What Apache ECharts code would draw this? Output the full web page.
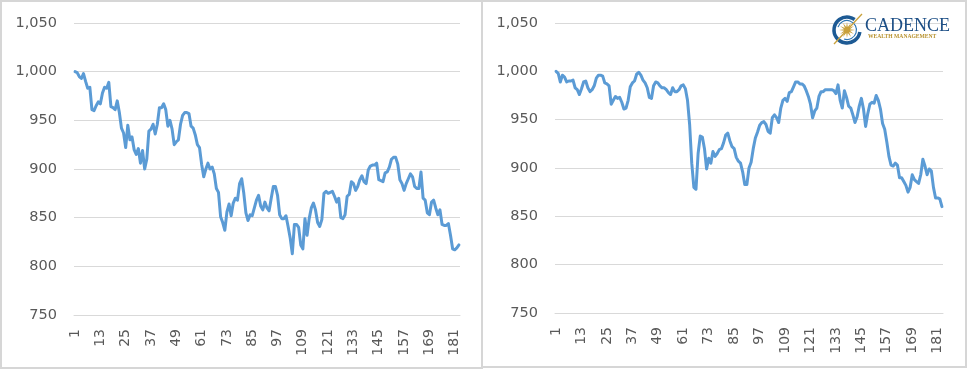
<!DOCTYPE html>
<html>
<head>
<meta charset="utf-8">
<script src="https://cdn.jsdelivr.net/npm/echarts@6/dist/echarts.min.js"></script>
<style>
html,body{margin:0;padding:0;background:#fff;}
#chart{width:968px;height:370px;}
</style>
</head>
<body>
<div id="chart"></div>
<script>
// Category labels (1..183)
const categories = Array.from({length: 183}, (_, i) => String(i + 1));

// Left panel series
const leftValues = [
1000,999,995,993,998,990,983,984,961,960,
965,969,967,978,984,983,989,964,963,961,
970,958,942,937,922,945,930,933,920,915,
921,906,919,900,910,939,941,946,936,946,
963,963,967,961,944,950,941,925,928,930,
946,955,958,958,957,944,942,935,925,922,
905,892,900,906,900,902,895,880,876,851,
845,837,856,864,852,865,870,868,885,890,
875,855,847,853,852,860,868,873,862,858,
866,860,857,870,882,882,873,853,849,849,
852,841,829,813,843,843,840,822,818,849,
832,849,860,865,858,845,841,848,875,877,
875,876,877,872,866,870,850,849,853,872,
874,887,885,878,882,889,893,887,885,899,
903,904,904,906,889,888,887,896,897,902,
910,912,912,905,889,885,878,885,890,895,
892,882,880,880,897,870,868,855,853,866,
868,860,853,858,843,842,842,844,832,818,
817,819,822
];

// Right panel series
const rightValues = [
1000,998,989,996,994,989,990,990,991,983,
981,976,982,989,990,983,979,981,985,993,
996,996,995,988,987,985,966,970,974,972,
973,968,961,962,970,984,988,990,997,999,
996,991,988,983,973,972,985,989,988,985,
983,983,981,978,976,983,979,979,981,985,
986,982,970,945,905,880,878,915,933,932,
920,899,910,905,917,912,915,919,920,926,
934,936,928,922,920,911,907,905,896,883,
883,900,906,920,931,937,944,947,948,945,
938,936,952,955,952,947,962,970,972,969,
978,979,984,989,989,987,987,985,980,974,
966,952,959,962,974,979,979,981,981,981,
981,980,977,986,970,962,980,973,964,962,
955,947,953,964,972,961,943,956,966,968,
967,975,970,961,946,940,927,912,903,902,
905,903,890,890,886,882,875,880,893,888,
886,884,893,909,902,893,899,897,880,869,
869,868,860
];

// Y axis ticks
const yMin = 750, yMax = 1050, yStep = 50;

const FONT = 'DejaVu Sans';
const TEXT = '#595959';
const GRID = '#d9d9d9';
const LINE = '#5B9BD5';

function xAxis(gridIndex) {
  return {
    type: 'category', gridIndex, data: categories, boundaryGap: true,
    axisLine: {show: true, lineStyle: {color: GRID, width: 1}},
    axisTick: {show: false},
    axisLabel: {interval: 11, rotate: 90, align: 'right', verticalAlign: 'middle',
      hideOverlap: false,
      color: TEXT, fontFamily: FONT, fontSize: 14, margin: 14}
  };
}
function yAxis(gridIndex) {
  return {
    type: 'value', gridIndex, min: yMin, max: yMax, interval: yStep,
    axisLine: {show: false}, axisTick: {show: false},
    splitLine: {lineStyle: {color: GRID, width: 1}},
    axisLabel: {color: TEXT, fontFamily: FONT, fontSize: 14.5, margin: 17,
      formatter: v => v.toLocaleString('en-US')}
  };
}

// Decorative starburst points for logo
const starPts = [];
const sc = [847, 30];
for (let k = 0; k < 24; k++) {
  const r = k % 2 === 0 ? 8 : 3;
  const a = Math.PI * k / 12;
  starPts.push([sc[0] + r * Math.cos(a), sc[1] + r * Math.sin(a)]);
}

const chart = echarts.init(document.getElementById('chart'), null, {renderer: 'canvas'});
chart.setOption({
  animation: false,
  backgroundColor: '#ffffff',
  grid: [
    {left: 74, right: 508, top: 23, bottom: 55, containLabel: false},
    {left: 555, right: 25, top: 23, bottom: 57, containLabel: false}
  ],
  xAxis: [xAxis(0), xAxis(1)],
  yAxis: [yAxis(0), yAxis(1)],
  series: [
    {type: 'line', xAxisIndex: 0, yAxisIndex: 0, data: leftValues, showSymbol: false,
     lineStyle: {color: LINE, width: 3, join: 'round', cap: 'round'}},
    {type: 'line', xAxisIndex: 1, yAxisIndex: 1, data: rightValues, showSymbol: false,
     lineStyle: {color: LINE, width: 3, join: 'round', cap: 'round'}}
  ],
  graphic: [
    {type: 'rect', shape: {x: 1, y: 1, width: 481, height: 367}, style: {fill: 'none', stroke: '#d6d6d6', lineWidth: 2}, z: 100},
    {type: 'rect', shape: {x: 482, y: 1, width: 484, height: 366}, style: {fill: 'none', stroke: '#d6d6d6', lineWidth: 2}, z: 100},
    // logo
    {type: 'arc', shape: {cx: 847, cy: 30, r: 13, startAngle: Math.PI * 0.05, endAngle: Math.PI * 1.7}, style: {fill: 'none', stroke: '#1d5a94', lineWidth: 3.5}, z: 100},
    {type: 'arc', shape: {cx: 847, cy: 30, r: 9.5, startAngle: Math.PI * 1.1, endAngle: Math.PI * 0.6}, style: {fill: 'none', stroke: '#2e77b5', lineWidth: 1.2}, z: 100},
    {type: 'polygon', shape: {points: starPts}, style: {fill: '#c9a13b'}, z: 101},
    {type: 'line', shape: {x1: 834, y1: 44, x2: 862, y2: 14}, style: {stroke: '#c9a13b', lineWidth: 1.3}, z: 101},
    {type: 'text', x: 865, y: 17, style: {text: 'CADENCE', fill: '#1d4f86', font: '18px "Liberation Serif"'}, z: 100},
    {type: 'text', x: 868, y: 34, style: {text: 'WEALTH MANAGEMENT', fill: '#b8922e', font: 'bold 5.6px "Liberation Serif"'}, z: 100}
  ]
});
</script>
</body>
</html>
